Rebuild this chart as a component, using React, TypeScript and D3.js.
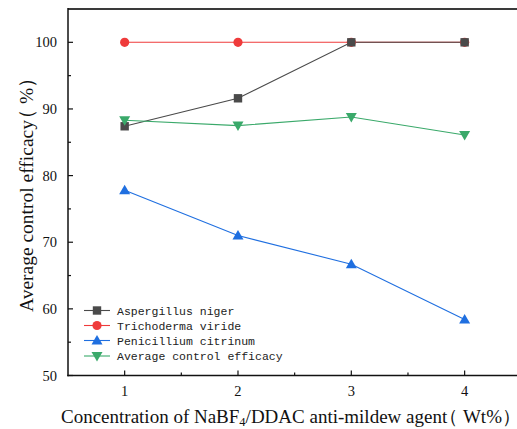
import React from "react";
import * as d3 from "d3";

const concentrations = [1, 2, 3, 4];
const aspergillus = [87.4, 91.6, 100, 100];
const trichoderma = [100, 100, 100, 100];
const penicillium = [77.8, 71.0, 66.7, 58.4];
const average = [88.3, 87.5, 88.8, 86.1];
const seriesNames = ["Aspergillus niger", "Trichoderma viride", "Penicillium citrinum", "Average control efficacy"];
const yTicks = [50, 60, 70, 80, 90, 100];
const yMinor = [55, 65, 75, 85, 95];
const xMinor = [1.5, 2.5, 3.5];

const W = 517;
const H = 429;
const left = 68;
const top = 9;
const bottom = 375.5;
const right = 521.3;

const colors = ["#4a4a4a", "#ef3b3b", "#1f6fe0", "#3aa96a"];
const shapes = ["square", "circle", "up", "down"];

function Marker({ shape, x, y, color }: { shape: string; x: number; y: number; color: string }) {
  if (shape === "square") return <rect x={x - 4.2} y={y - 4.2} width={8.4} height={8.4} fill={color} />;
  if (shape === "circle") return <circle cx={x} cy={y} r={4.6} fill={color} />;
  if (shape === "up") return <path d={`M${x},${y - 5.5} L${x + 5.5},${y + 4} L${x - 5.5},${y + 4} Z`} fill={color} />;
  return <path d={`M${x},${y + 5.5} L${x + 5.5},${y - 4} L${x - 5.5},${y - 4} Z`} fill={color} />;
}

export default function App() {
  const x = d3.scaleLinear().domain([0.5, 4.5]).range([left, right]);
  const y = d3.scaleLinear().domain([50, 105]).range([bottom, top]);
  const data = [aspergillus, trichoderma, penicillium, average];
  const line = d3
    .line<number>()
    .x((_, i) => x(concentrations[i]))
    .y((d) => y(d));
  const drawOrder = [1, 0, 3, 2];
  const legendX = 84;
  const legendY = [310.5, 325.5, 340.5, 356];

  return (
    <div style={{ position: "absolute", left: 0, top: 0, width: W, height: H, overflow: "hidden", background: "#fff" }}>
      <svg width={W} height={H} style={{ display: "block" }}>
        <rect width={W} height={H} fill="#fff" />
        {drawOrder.map((si) => (
          <path key={"l" + si} d={line(data[si]) || ""} fill="none" stroke={colors[si]} strokeWidth={1.1} />
        ))}
        {drawOrder.map((si) =>
          data[si].map((v, i) => (
            <Marker key={`m${si}-${i}`} shape={shapes[si]} x={x(concentrations[i])} y={y(v)} color={colors[si]} />
          ))
        )}
        <line x1={left} x2={W} y1={top} y2={top} stroke="#3a3a3a" strokeWidth={2} />
        <line x1={left} x2={left} y1={top - 1} y2={bottom + 0.75} stroke="#111" strokeWidth={1.5} />
        <line x1={left - 0.75} x2={W} y1={bottom} y2={bottom} stroke="#111" strokeWidth={1.5} />
        {yTicks.map((t) => (
          <g key={"yt" + t}>
            <line x1={left} x2={left + 5} y1={y(t)} y2={y(t)} stroke="#111" strokeWidth={1.2} />
            <text x={57} y={y(t) + 5} textAnchor="end" fontFamily="Liberation Serif" fontSize={14.5} fill="#111">
              {t}
            </text>
          </g>
        ))}
        {yMinor.map((t) => (
          <line key={"ym" + t} x1={left} x2={left + 3} y1={y(t)} y2={y(t)} stroke="#111" strokeWidth={1.2} />
        ))}
        {concentrations.map((t) => (
          <g key={"xt" + t}>
            <line x1={x(t)} x2={x(t)} y1={bottom} y2={bottom - 5} stroke="#111" strokeWidth={1.2} />
            <text x={x(t)} y={396} textAnchor="middle" fontFamily="Liberation Serif" fontSize={14.5} fill="#111">
              {t}
            </text>
          </g>
        ))}
        {xMinor.map((t) => (
          <line key={"xm" + t} x1={x(t)} x2={x(t)} y1={bottom} y2={bottom - 3} stroke="#111" strokeWidth={1.2} />
        ))}
        {seriesNames.map((name, si) => (
          <g key={"lg" + si}>
            <line x1={legendX} x2={legendX + 26} y1={legendY[si]} y2={legendY[si]} stroke={colors[si]} strokeWidth={1.1} />
            <Marker shape={shapes[si]} x={legendX + 13} y={legendY[si]} color={colors[si]} />
            <text
              x={117}
              y={legendY[si] + 4}
              style={{ fontFamily: "'Liberation Mono', 'DejaVu Sans Mono', monospace", fontSize: "11.5px" }}
              fill="#222"
            >
              {name}
            </text>
          </g>
        ))}
        <text
          transform={`translate(33,312) rotate(-90)`}
          fontFamily="Liberation Serif"
          fontSize={19.5}
          fill="#111"
        >
          Average control efficacy<tspan dx={-9}>（</tspan>
          <tspan> %）</tspan>
        </text>
        <text x={61} y={422.5} fontFamily="Liberation Serif" fontSize={19} fill="#111">
          Concentration of NaBF<tspan fontSize={12.5} dy={3.5}>4</tspan>
          <tspan dy={-3.5}>/DDAC anti-mildew agent</tspan>
          <tspan dx={-8}>（</tspan>
          <tspan> Wt%）</tspan>
        </text>
      </svg>
    </div>
  );
}
